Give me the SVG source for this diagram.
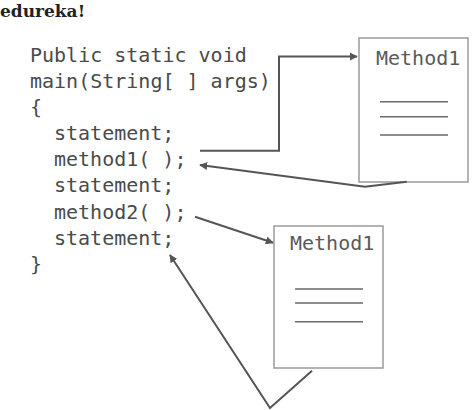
<svg xmlns="http://www.w3.org/2000/svg" width="474" height="410" viewBox="0 0 474 410">
<style>
.code{font-family:"DejaVu Sans Mono","Liberation Mono",monospace;font-size:20px;fill:#4a4a4a}
.title{font-family:"DejaVu Sans Mono","Liberation Mono",monospace;font-size:20px;fill:#5a5a5a}
.box{fill:#fff;stroke:#9a9a9a;stroke-width:1.5}
.rule{stroke:#6a6a6a;stroke-width:1.5}
.conn{fill:none;stroke:#555;stroke-width:2}
.logo{font-family:"DejaVu Serif","Liberation Serif",serif;font-size:17px;font-weight:bold;fill:#222}
</style>
<defs>
<marker id="ah" viewBox="0 0 10 10" refX="9" refY="5" markerWidth="4" markerHeight="4" orient="auto" markerUnits="strokeWidth">
<path d="M0,0 L10,5 L0,10 z" fill="#555"/>
</marker>
</defs>
<rect width="474" height="410" fill="#fff"/>
<text class="logo" x="0" y="17">edureka!</text>
<g id="main-code">
<text class="code" x="30" y="61.5">Public static void</text>
<text class="code" x="30" y="87.7">main(String[ ] args)</text>
<text class="code" x="30" y="113.9">{</text>
<text class="code" x="54" y="140">statement;</text>
<text class="code" x="54" y="166.2">method1( );</text>
<text class="code" x="54" y="192.4">statement;</text>
<text class="code" x="54" y="218.6">method2( );</text>
<text class="code" x="54" y="244.8">statement;</text>
<text class="code" x="30" y="271">}</text>
</g>
<g id="method1-box">
<rect class="box" x="359" y="38" width="109" height="144"/>
<text class="title" x="376" y="65">Method1</text>
<line class="rule" x1="380" y1="101.7" x2="448" y2="101.7"/>
<line class="rule" x1="380" y1="116.7" x2="448" y2="116.7"/>
<line class="rule" x1="380" y1="135" x2="448" y2="135"/>
</g>
<g id="method2-box">
<rect class="box" x="274" y="226" width="109" height="142"/>
<text class="title" x="290" y="249.5">Method1</text>
<line class="rule" x1="295" y1="289" x2="363" y2="289"/>
<line class="rule" x1="295" y1="303" x2="363" y2="303"/>
<line class="rule" x1="295" y1="321.7" x2="363" y2="321.7"/>
</g>
<g id="connectors">
<polyline class="conn" points="200,150.7 279,150.7 279,56.5 357,56.5" marker-end="url(#ah)"/>
<polyline class="conn" points="406.7,181.7 365,186.7 200,165" marker-end="url(#ah)"/>
<polyline class="conn" points="195,216.7 273,242.7" marker-end="url(#ah)"/>
<polyline class="conn" points="312,370.7 270,408 170,255" marker-end="url(#ah)"/>
</g>
</svg>
